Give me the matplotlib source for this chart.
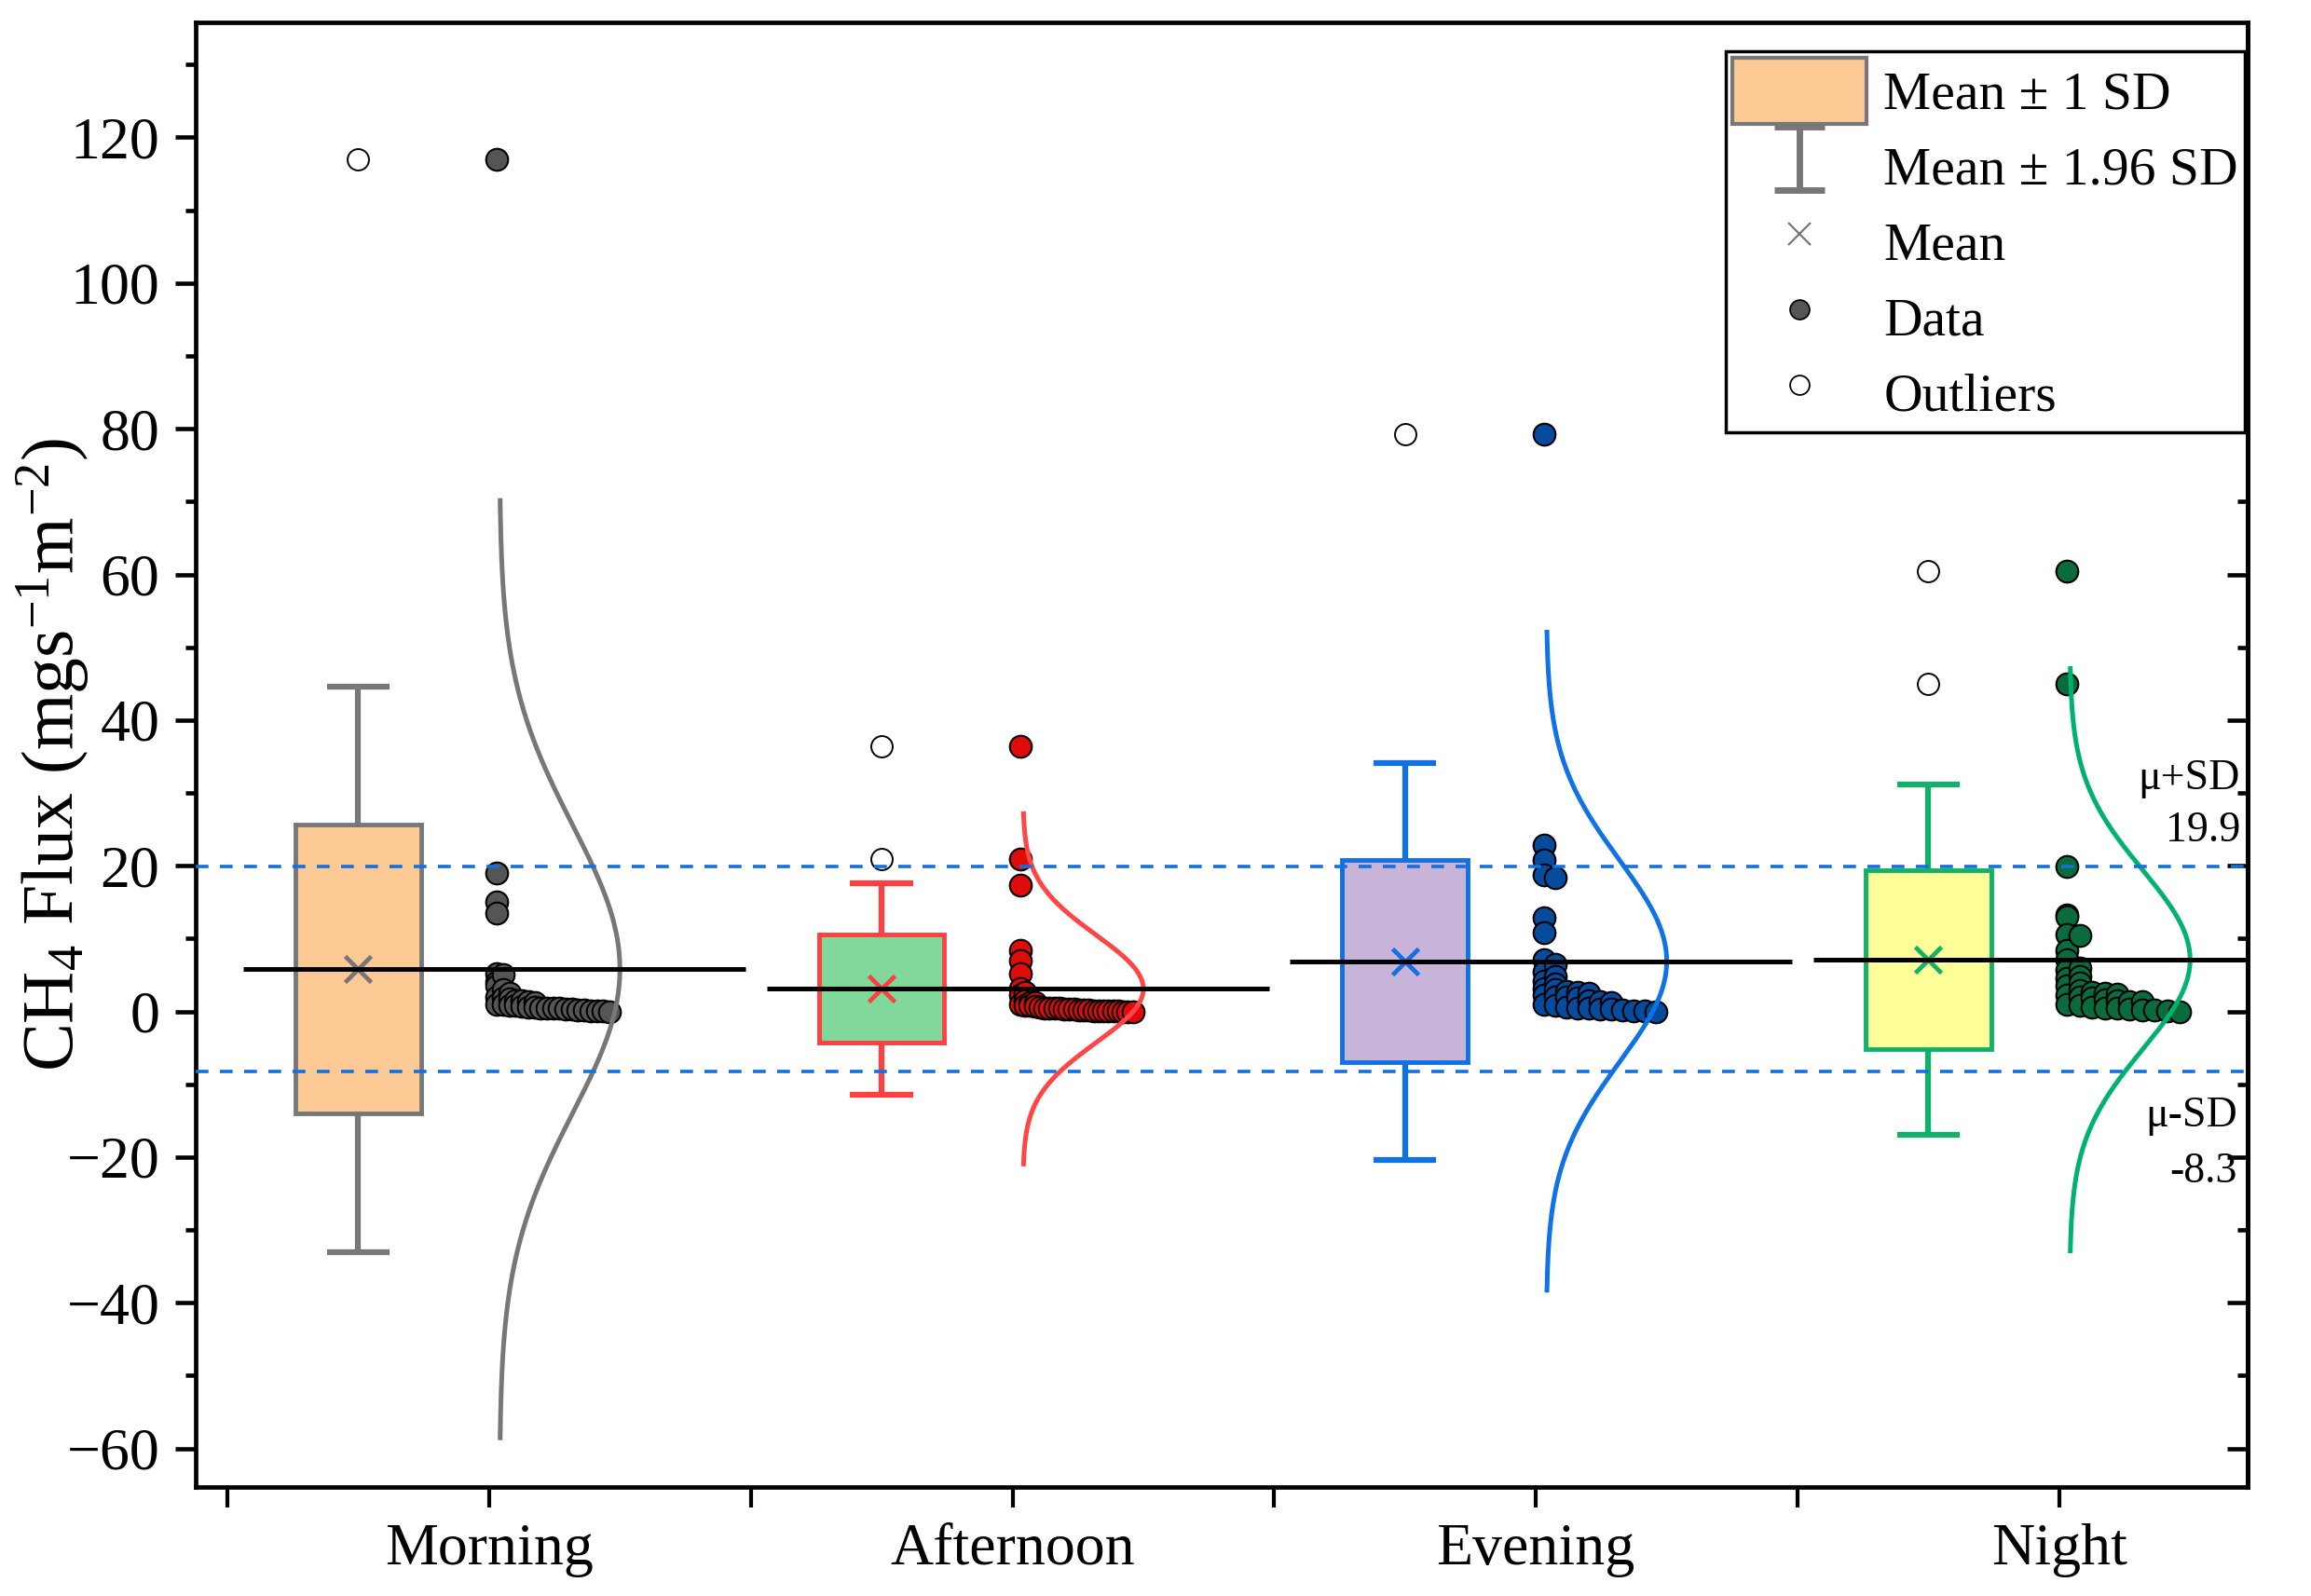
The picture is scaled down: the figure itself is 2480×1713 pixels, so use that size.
import numpy as np
import matplotlib.pyplot as plt
from matplotlib.path import Path
from matplotlib.lines import Line2D
from matplotlib.patches import Patch, Rectangle
from matplotlib.ticker import MultipleLocator
import matplotlib.transforms as mtransforms

plt.rcParams['font.family'] = ['Liberation Serif', 'DejaVu Serif']
plt.rcParams['mathtext.fontset'] = 'custom'
plt.rcParams['mathtext.rm'] = 'Liberation Serif'
plt.rcParams['mathtext.it'] = 'Liberation Serif:italic'

# Data
periods = ["Morning", "Afternoon", "Evening", "Night"]
means = [5.8, 3.1, 6.9, 7.1]
sds = [19.8, 7.4, 13.9, 12.3]

morning = [117, 19, 15, 13.5, 5.2, 5, 4, 3.5, 3, 2.5, 2, 1.8, 1.7, 1.5, 1.5,
           1.3, 1.2, 1.0, 1.0, 0.9, 0.8, 0.7, 0.6, 0.6, 0.5, 0.5, 0.4, 0.4,
           0.3, 0.3, 0.2, 0.2, 0.1, 0.1, 0.05, 0.0]
afternoon = [36.4, 20.9, 17.4, 8.4, 7.0, 5.2, 3.2, 2.6, 2.3, 1.5, 1.2, 1.2,
             1.0, 0.9, 0.8, 0.7, 0.6, 0.5, 0.5, 0.4, 0.4, 0.3, 0.3, 0.3, 0.2,
             0.2, 0.2, 0.1, 0.1, 0.1, 0.1, 0.05, 0.05, 0.0, 0.0, 0.0]
evening = [79.2, 22.8, 20.8, 18.8, 18.4, 12.8, 10.8, 7.1, 6.5, 5.5, 4.8, 4.2,
           3.8, 3.1, 3.0, 2.8, 2.6, 2.5, 2.2, 2.0, 2.0, 1.8, 1.5, 1.4, 1.2,
           1.0, 0.8, 0.6, 0.5, 0.4, 0.3, 0.3, 0.2, 0.1, 0.1, 0.0]
night = [60.4, 45, 19.9, 13.3, 13.0, 10.6, 10.4, 8.4, 7.1, 6.0, 5.7, 4.8, 4.5,
         3.9, 3.5, 2.9, 2.6, 2.5, 2.4, 2.2, 2.0, 1.8, 1.6, 1.5, 1.4, 1.3, 1.0,
         0.8, 0.6, 0.5, 0.4, 0.3, 0.2, 0.2, 0.1, 0.0]
data = [morning, afternoon, evening, night]

outliers = [[117], [36.4, 20.9], [79.2], [60.4, 45]]

mu_plus_sd = 19.9
mu_minus_sd = -8.3

# colours
box_fill = ["#FDC995", "#80D99B", "#C8B4D9", "#FFFF99"]
box_edge = ["#777777", "#FF4040", "#1170E2", "#12B06A"]
point_col = ["#555555", "#E00B0B", "#064B9C", "#0A6B3C"]
curve_col = ["#777777", "#FF4545", "#0F72E6", "#00B26E"]
dash_col = "#1670DC"


def spread(vals, binsize, width):
    # points sharing a value bin are spread to the right, one step each
    vals = np.asarray(vals, dtype=float)
    bins = np.floor(vals / binsize).astype(int)
    k = np.zeros(len(vals))
    for b in np.unique(bins):
        idx = np.where(bins == b)[0]
        idx = idx[np.argsort(-vals[idx], kind='stable')]
        k[idx] = np.arange(len(idx))
    if k.max() > 0:
        k = k / k.max() * width
    return k


fig = plt.figure(figsize=(24.8, 17.13), dpi=100)
ax = fig.add_axes([0.0848, 0.0683, 0.8878, 0.9177])

box_off = -0.25
box_w = 0.24
cap_w = 0.12

for i, name in enumerate(periods):
    c = i + 1
    m, s = means[i], sds[i]
    bx = c + box_off

    # box mean +- 1 SD
    ax.add_patch(Rectangle((bx - box_w / 2, m - s), box_w, 2 * s,
                           facecolor=box_fill[i], edgecolor=box_edge[i],
                           linewidth=3.5, zorder=2))
    # whiskers mean +- 1.96 SD
    ax.plot([bx, bx], [m + s, m + 1.96 * s], color=box_edge[i], lw=4.5, zorder=2,
            solid_capstyle='butt')
    ax.plot([bx, bx], [m - s, m - 1.96 * s], color=box_edge[i], lw=4.5, zorder=2,
            solid_capstyle='butt')
    ax.plot([bx - cap_w / 2, bx + cap_w / 2], [m + 1.96 * s] * 2, color=box_edge[i],
            lw=4.5, zorder=2, solid_capstyle='butt')
    ax.plot([bx - cap_w / 2, bx + cap_w / 2], [m - 1.96 * s] * 2, color=box_edge[i],
            lw=4.5, zorder=2, solid_capstyle='butt')
    # mean marker
    ax.plot(bx, m, marker='x', ms=20, mew=3.4, color=box_edge[i], zorder=3)
    # outliers
    ax.plot([bx] * len(outliers[i]), outliers[i], ls='none', marker='o', ms=16.5,
            mfc='white', mec='black', mew=1.4, zorder=3)

    # data points
    vals = np.asarray(data[i], dtype=float)
    xs = spread(vals, 1.2, 0.215)
    order = np.argsort(xs, kind='stable')
    ax.scatter(c + 0.015 + xs[order], vals[order], s=17 ** 2, facecolor=point_col[i],
               edgecolor='black', linewidth=1.5, zorder=3)

    # normal curve
    yy = np.linspace(m - 3.25 * s, m + 3.25 * s, 300)
    ax.plot(c + 0.02 + 0.23 * np.exp(-0.5 * ((yy - m) / s) ** 2), yy,
            color=curve_col[i], lw=3.6, zorder=4)

    # mean line
    ax.plot([c - 0.47, c + 0.49], [m, m], color='black', lw=3.6, zorder=5,
            solid_capstyle='butt')

ax.axhline(mu_plus_sd, color=dash_col, lw=2.6, ls=(0, (3.8, 3.4)), zorder=6)
ax.axhline(mu_minus_sd, color=dash_col, lw=2.6, ls=(0, (3.8, 3.4)), zorder=6)

trans = mtransforms.blended_transform_factory(ax.transAxes, ax.transData)
ax.text(0.9964, 32.0, "\u03bc+SD", transform=trans, ha='right', va='center', fontsize=33)
ax.text(0.9964, 24.8, f"{mu_plus_sd}", transform=trans, ha='right', va='center', fontsize=33)
ax.text(0.995, -14.4, "\u03bc-SD", transform=trans, ha='right', va='center', fontsize=33)
ax.text(0.995, -22.0, f"{mu_minus_sd}", transform=trans, ha='right', va='center', fontsize=33)

# axes
ax.set_xlim(0.44, 4.36)
ax.set_ylim(-65.3, 135.8)
ax.set_xticks([1, 2, 3, 4])
ax.set_xticklabels(periods, fontsize=46)
ax.set_xticks([0.5, 1.5, 2.5, 3.5], minor=True)
ax.yaxis.set_major_locator(MultipleLocator(20))
ax.yaxis.set_minor_locator(MultipleLocator(10))
ax.tick_params(axis='y', which='major', labelsize=46, length=16, width=3.3,
               direction='out', pad=12)
ax.tick_params(axis='y', which='minor', length=8, width=3.3, direction='out')
ax.tick_params(axis='x', which='both', length=16, width=3.0, direction='out', pad=12)
for sp in ax.spines.values():
    sp.set_linewidth(3.4)

right = ax.secondary_yaxis('right')
right.yaxis.set_major_locator(MultipleLocator(20))
right.yaxis.set_minor_locator(MultipleLocator(10))
right.tick_params(axis='y', which='major', length=16, width=3.3, direction='in',
                  labelright=False)
right.tick_params(axis='y', which='minor', length=8, width=3.3, direction='in')
right.spines['right'].set_linewidth(3.4)

ax.set_ylabel(r'CH$_4$ Flux (mgs$^{-1}$m$^{-2}$)', fontsize=56)
ax.yaxis.set_label_coords(-0.051, 0.5)

# legend
ibeam = Path([(-0.8, 1), (0.8, 1), (0, 1), (0, -1), (-0.8, -1), (0.8, -1)],
             [Path.MOVETO, Path.LINETO, Path.MOVETO, Path.LINETO, Path.MOVETO, Path.LINETO])
handles = [
    Patch(facecolor=box_fill[0], edgecolor=box_edge[0], linewidth=3.0),
    Line2D([], [], ls='none', marker=ibeam, ms=49, mew=5, mfc='none', mec='#777777'),
    Line2D([], [], ls='none', marker='x', ms=17, mew=1.6, color='#777777'),
    Line2D([], [], ls='none', marker='o', ms=15, mfc='#555555', mec='black', mew=1.3),
    Line2D([], [], ls='none', marker='o', ms=15, mfc='white', mec='black', mew=1.3),
]
labels = ["Mean \u00b1 1 SD", "Mean \u00b1 1.96 SD", "Mean", "Data", "Outliers"]
leg = ax.legend(handles, labels, loc='upper right', bbox_to_anchor=(0.9985, 0.98),
                fontsize=41.5, frameon=True, fancybox=False, framealpha=1,
                edgecolor='black', handlelength=2.5, handleheight=1.52,
                handletextpad=0.32, labelspacing=0.17, borderpad=0.12,
                borderaxespad=0)
leg.get_frame().set_linewidth(2.5)

fig.savefig("out.png", dpi=100)
